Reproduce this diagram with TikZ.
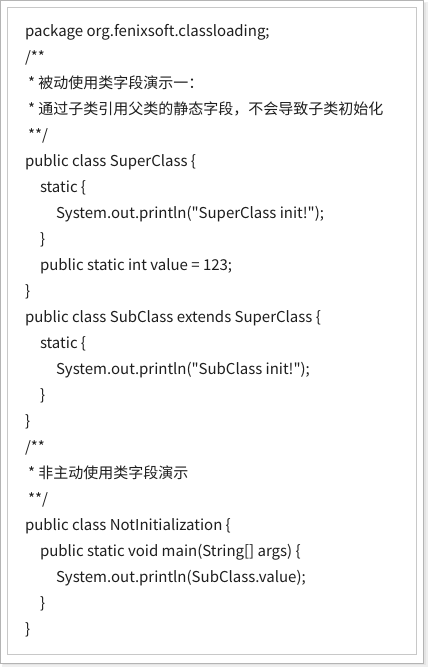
\documentclass[tikz,border=0pt]{standalone}
\usepackage{fontspec}
\setmainfont[Ligatures=TeXOff]{Noto Sans CJK SC}
\usetikzlibrary{positioning}
\definecolor{txt}{HTML}{1E1E1E}
\definecolor{outerln}{HTML}{B4B4B4}
\definecolor{innerln}{HTML}{C8C8C8}
\definecolor{shad}{HTML}{E4E4E4}
\begin{document}
\begin{tikzpicture}[x=1pt,y=-1pt,
  code/.style={anchor=base west,inner sep=0pt,outer sep=0pt,text=txt,font=\fontsize{15pt}{17pt}\selectfont}]
\useasboundingbox (0,0) rectangle (429,667);
\fill[white] (0,0) rectangle (429,667);
% shadow
\fill[shad!60] (2,2) rectangle (428,667);
\fill[shad] (3,3) rectangle (426,665);
% outer frame
\filldraw[fill=white,draw=outerln,line width=1pt] (0.5,0.5) rectangle (423.5,663);
% inner frame
\draw[innerln,line width=1pt] (7,7) rectangle (416.5,654);
% code lines
\node[code] (l1)  at (25,36)  {package org.fenixsoft.classloading;};
\node[code] (l2)  at (25,62)  {/**};
\node[code] (l3)  at (28,88)  {* 被动使用类字段演示一：};
\node[code] (l4)  at (28,114) {* 通过子类引用父类的静态字段，不会导致子类初始化};
\node[code] (l5)  at (28,140) {**/};
\node[code] (l6)  at (25,166) {public class SuperClass \{};
\node[code] (l7)  at (40,192) {static \{};
\node[code] (l8)  at (56,218) {System.out.println("SuperClass init!");};
\node[code] (l9)  at (40,244) {\}};
\node[code] (l10) at (40,270) {public static int value = 123;};
\node[code] (l11) at (25,296) {\}};
\node[code] (l12) at (25,322) {public class SubClass extends SuperClass \{};
\node[code] (l13) at (40,348) {static \{};
\node[code] (l14) at (56,374) {System.out.println("SubClass init!");};
\node[code] (l15) at (40,400) {\}};
\node[code] (l16) at (25,426) {\}};
\node[code] (l17) at (25,452) {/**};
\node[code] (l18) at (28,478) {* 非主动使用类字段演示};
\node[code] (l19) at (28,504) {**/};
\node[code] (l20) at (25,530) {public class NotInitialization \{};
\node[code] (l21) at (40,556) {public static void main(String[] args) \{};
\node[code] (l22) at (56,582) {System.out.println(SubClass.value);};
\node[code] (l23) at (40,608) {\}};
\node[code] (l24) at (25,634) {\}};
\end{tikzpicture}
\end{document}
